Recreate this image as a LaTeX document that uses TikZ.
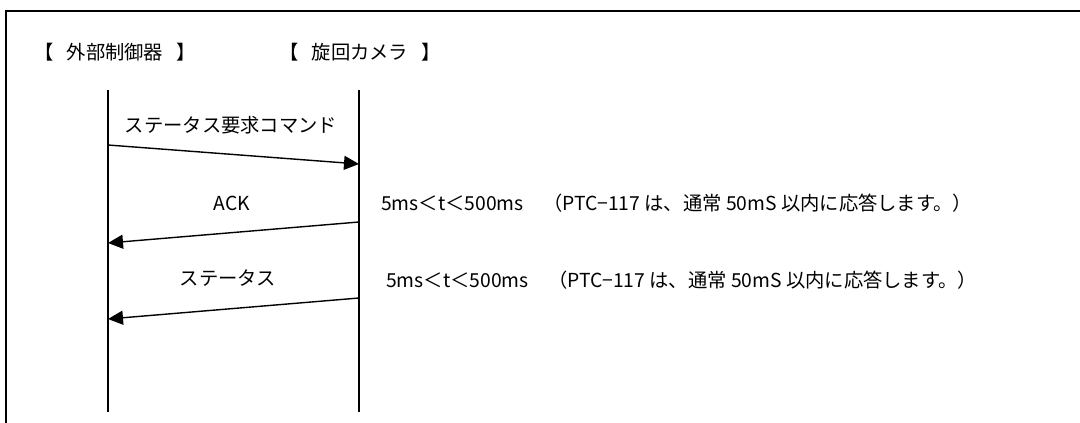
\documentclass[tikz,border=0pt]{standalone}
\usepackage{fontspec}
\setmainfont{Noto Sans CJK JP}
\usetikzlibrary{arrows.meta}
\begin{document}
\begin{tikzpicture}[x=1pt,y=-1pt,
  lbl/.style={inner sep=0pt, font=\fontsize{19.3}{22}\selectfont},
  life/.style={line width=1.6pt},
  msg/.style={line width=1.4pt, -{Triangle[length=15pt,width=14pt]}},
  frame/.style={line width=2.4pt}]
\useasboundingbox (0,0) rectangle (1080,423);
\coordinate (f1) at (1080,11);
\coordinate (f2) at (6,11);
\coordinate (f3) at (6,423);
\draw[frame] (f1) -- (f2) -- (f3);
\node[lbl] (hA) at (115,52) {【\hspace{13pt}外部制御器\hspace{13pt}】};
\node[lbl] (hB) at (360,52) {【\hspace{13pt}旋回カメラ\hspace{13pt}】};
\coordinate (a1) at (108,90);
\coordinate (a2) at (108,412);
\coordinate (b1) at (359,90);
\coordinate (b2) at (359,412);
\draw[life] (a1) -- (a2);
\draw[life] (b1) -- (b2);
\coordinate (m1s) at (108,145);
\coordinate (m1e) at (359,164);
\coordinate (m2s) at (359,222);
\coordinate (m2e) at (108,243);
\coordinate (m3s) at (359,298);
\coordinate (m3e) at (108,319);
\draw[msg] (m1s) -- (m1e);
\draw[msg] (m2s) -- (m2e);
\draw[msg] (m3s) -- (m3e);
\node[lbl] (l1) at (231,125) {ステータス要求コマンド};
\node[lbl] (l2) at (232,203) {ACK};
\node[lbl] (l3) at (228,278) {ステータス};
\node[lbl, anchor=west] (n1) at (381,203) {5ms＜t＜500ms　（PTC−117 は、通常 50mS 以内に応答します。）};
\node[lbl, anchor=west] (n2) at (386,280) {5ms＜t＜500ms　（PTC−117 は、通常 50mS 以内に応答します。）};
\end{tikzpicture}
\end{document}
